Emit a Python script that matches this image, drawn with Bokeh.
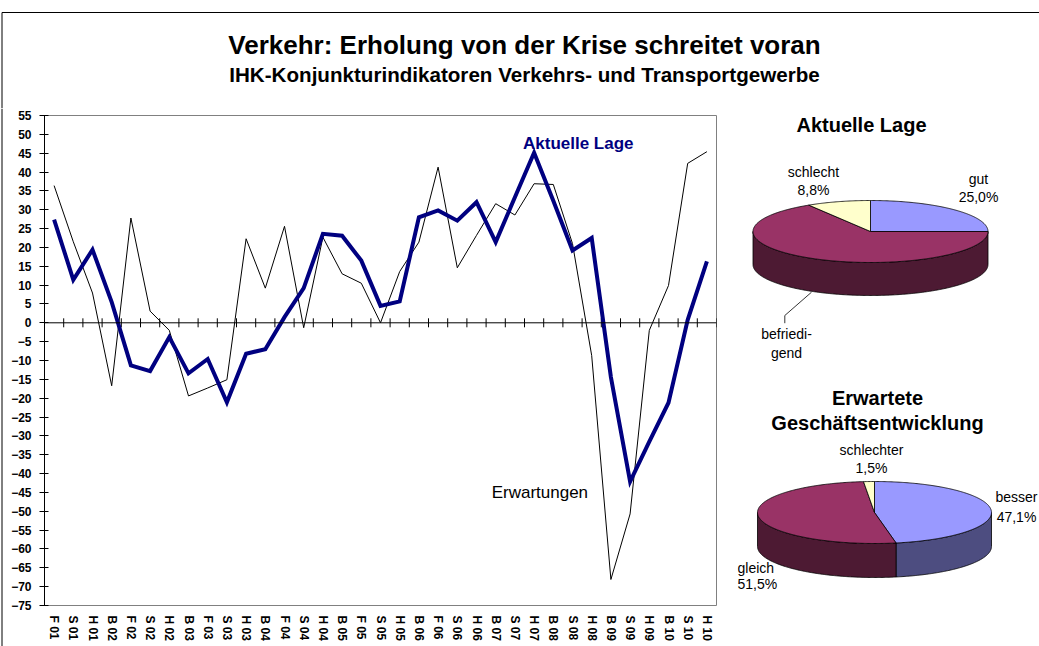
import numpy as np
from bokeh.plotting import figure
from bokeh.models import Range1d, FixedTicker, Span
from bokeh.layouts import column, row
from bokeh.embed import file_html
from bokeh.resources import INLINE
from bokeh.core.properties import value

# ---------------- data ----------------
categories = ["F 01", "S 01", "H 01", "B 02", "F 02", "S 02", "H 02", "B 03", "F 03", "S 03",
              "H 03", "B 04", "F 04", "S 04", "H 04", "B 05", "F 05", "S 05", "H 05", "B 06",
              "F 06", "S 06", "H 06", "B 07", "S 07", "H 07", "B 08", "S 08", "H 08", "B 09",
              "S 09", "H 09", "B 10", "S 10", "H 10"]
aktuelle_lage = [27.4, 11.4, 19.4, 5.5, -11.3, -12.8, -3.8, -13.4, -9.6, -21.1,
                 -8.2, -7.0, 1.5, 9.2, 23.6, 23.1, 16.5, 4.5, 5.7, 28.0,
                 29.8, 27.1, 32.0, 21.4, 33.3, 45.1, 32.4, 19.2, 22.5, -14.4,
                 -42.1, -31.5, -21.2, 0.8, 16.3]
erwartungen = [36.4, 21.5, 7.9, -16.7, 27.8, 3.1, -2.0, -19.4, -17.3, -15.1,
               22.3, 9.2, 25.6, -1.3, 22.7, 13.0, 10.5, 0.0, 13.6, 21.4,
               41.3, 14.6, 23.2, 31.6, 28.6, 36.9, 36.7, 21.0, -8.7, -68.1,
               -50.7, -2.0, 9.9, 42.3, 45.4]
y_ticks = list(range(-75, 56, 5))

lage_labels = ["gut", "befriedigend", "schlecht"]
lage_values = [25.0, 66.2, 8.8]
erw_labels = ["besser", "gleich", "schlechter"]
erw_values = [47.1, 51.5, 1.5]
pie_colors = ["#9999FF", "#993366", "#FFFFCC"]
pie_side_colors = ["#4D4D80", "#4D1A33", "#808066"]

FONT = "Liberation Sans"
STRIP = 8

# ---------------- title figure ----------------
tf = figure(width=1039, height=108, x_range=Range1d(0, 1039), y_range=Range1d(0, 108),
            x_axis_type=None, y_axis_type=None, output_backend="svg",
            toolbar_location=None, min_border=0)
tf.frame_align = False
tf.grid.visible = False
tf.outline_line_color = None
# chart-area border (top and left)
tf.line([1.5, 1.5, 1039], [0, 96, 96], line_color="black", line_width=1)
tf.text(x=[524], y=[64], text=["Verkehr: Erholung von der Krise schreitet voran"],
        text_font=value(FONT), text_font_size="26px", text_font_style="bold",
        text_align="center", text_baseline="middle", text_color="black")
tf.text(x=[524], y=[34], text=["IHK-Konjunkturindikatoren Verkehrs- und Transportgewerbe"],
        text_font=value(FONT), text_font_size="20.6px", text_font_style="bold",
        text_align="center", text_baseline="middle", text_color="black")

# thin strip carrying the left border of the chart area
sf = figure(width=STRIP, height=538, x_range=Range1d(0, STRIP), y_range=Range1d(0, 538),
            x_axis_type=None, y_axis_type=None, output_backend="svg",
            toolbar_location=None, min_border=0)
sf.frame_align = False
sf.grid.visible = False
sf.outline_line_color = None
sf.line([1.5, 1.5], [0, 538], line_color="black", line_width=1)

# ---------------- main line chart ----------------
n = len(categories)
xpos = [i + 0.5 for i in range(n)]
p = figure(frame_width=672, frame_height=490, x_range=Range1d(0, n), y_range=Range1d(-75, 55),
           min_border_left=43 - STRIP, min_border_right=21, min_border_top=7, min_border_bottom=41,
           output_backend="svg", toolbar_location=None)
p.frame_align = False
p.grid.visible = False
p.outline_line_color = "#808080"
p.outline_line_width = 1

p.yaxis.ticker = FixedTicker(ticks=y_ticks)
p.yaxis.minor_tick_line_color = None
p.yaxis.major_tick_in = 4
p.yaxis.major_tick_out = 5
p.yaxis.major_label_standoff = 8
p.yaxis.axis_line_color = "black"
p.yaxis.major_tick_line_color = "black"
p.yaxis.major_label_text_font = FONT
p.yaxis.major_label_text_font_size = "12px"
p.yaxis.major_label_text_font_style = "bold"
p.yaxis.major_label_text_color = "black"

p.xaxis.ticker = FixedTicker(ticks=xpos)
p.xaxis.major_label_overrides = {float(x): c for x, c in zip(xpos, categories)}
p.xaxis.major_label_orientation = "vertical"
p.xaxis.axis_line_color = None
p.xaxis.major_tick_line_color = None
p.xaxis.minor_tick_line_color = None
p.xaxis.major_tick_in = 0
p.xaxis.major_tick_out = 0
p.xaxis.major_label_standoff = 10
p.xaxis.major_label_text_font = FONT
p.xaxis.major_label_text_font_size = "12px"
p.xaxis.major_label_text_font_style = "bold"
p.xaxis.major_label_text_color = "black"

# zero axis with crossing tick marks between categories
p.add_layout(Span(location=0, dimension="width", line_color="black", line_width=1))
p.scatter(x=list(range(1, n + 1)), y=[0] * n, marker="dash", angle=np.pi / 2, size=9,
          line_color="black", line_width=1)

p.line(xpos, erwartungen, line_color="black", line_width=1)
p.line(xpos, aktuelle_lage, line_color="#000080", line_width=4, line_join="miter")

p.text(x=[27.8], y=[47.6], text=["Aktuelle Lage"], text_font=value(FONT),
       text_font_size="17px", text_font_style="bold", text_color="#000080",
       text_align="center", text_baseline="middle")
p.text(x=[25.8], y=[-45.0], text=["Erwartungen"], text_font=value(FONT),
       text_font_size="17px", text_color="black",
       text_align="center", text_baseline="middle")

# ---------------- pies ----------------
pf = figure(width=303, height=538, x_range=Range1d(0, 303), y_range=Range1d(0, 538),
            x_axis_type=None, y_axis_type=None, output_backend="svg",
            toolbar_location=None, min_border=0)
pf.frame_align = False
pf.grid.visible = False
pf.outline_line_color = None


def pie3d(fig, values, cx, cy, rx, ry, depth):
    vals = np.array(values, dtype=float)
    vals = vals / vals.sum()
    bounds = np.concatenate([[0.0], np.cumsum(vals)]) * 2 * np.pi
    side_xs, side_ys, side_c = [], [], []
    top_xs, top_ys, top_c = [], [], []
    for i in range(len(vals)):
        a, b = bounds[i], bounds[i + 1]
        t = np.linspace(a, b, max(int((b - a) / 0.01), 2))
        top_xs.append([cx] + list(cx + rx * np.sin(t)))
        top_ys.append([cy] + list(cy + ry * np.cos(t)))
        top_c.append(pie_colors[i])
        lo, hi = max(a, np.pi / 2), min(b, 3 * np.pi / 2)
        if hi > lo:
            s = np.linspace(lo, hi, max(int((hi - lo) / 0.01), 2))
            side_xs.append(list(cx + rx * np.sin(s)) + list(cx + rx * np.sin(s[::-1])))
            side_ys.append(list(cy + ry * np.cos(s)) + list(cy + ry * np.cos(s[::-1]) - depth))
            side_c.append(pie_side_colors[i])
    fig.patches(side_xs, side_ys, fill_color=side_c, line_color="black", line_width=0.8)
    fig.patches(top_xs, top_ys, fill_color=top_c, line_color="black", line_width=0.8)


pie3d(pf, lage_values, 133, 415, 117.5, 31, 33)
pie3d(pf, erw_values, 137, 134, 117, 31, 34)


def ptext(x, y, s, size="14px", style="normal", align="center"):
    pf.text(x=[x], y=[y], text=[s], text_font=value(FONT), text_font_size=size,
            text_font_style=style, text_color="black", text_align=align,
            text_baseline="middle")


def pct(v):
    return f"{v:.1f}%".replace(".", ",")


ptext(124, 522, "Aktuelle Lage", size="20px", style="bold")
ptext(241, 468, lage_labels[0])
ptext(241, 450, pct(lage_values[0]))
ptext(76, 475, lage_labels[2])
ptext(76, 457, pct(lage_values[2]))
ptext(49, 313, "befriedi-")
ptext(49, 294, "gend")
pf.line([74, 47.3, 47.3], [354.3, 331, 323.3], line_color="black", line_width=0.8)

ptext(140, 249, "Erwartete", size="20px", style="bold")
ptext(140, 224, "Geschäftsentwicklung", size="20px", style="bold")
ptext(134, 197, erw_labels[2])
ptext(134, 179, pct(erw_values[2]))
ptext(279, 150, erw_labels[0])
ptext(279, 130, pct(erw_values[0]))
ptext(0, 79, erw_labels[1], align="left")
ptext(0, 63, pct(erw_values[1]), align="left")

layout = column(tf, row(sf, p, pf, spacing=0), spacing=0)
open("out.html", "w").write(file_html(layout, INLINE))
